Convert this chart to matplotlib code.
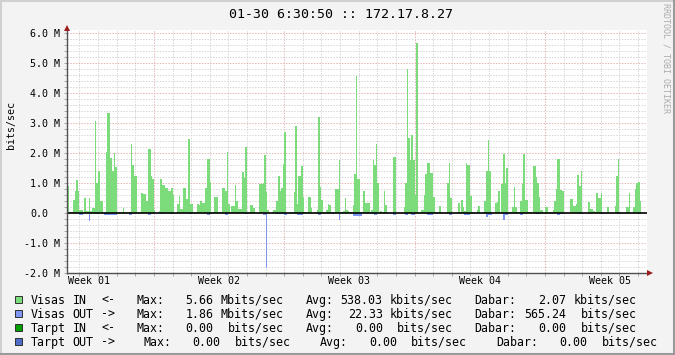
import re
import numpy as np
import matplotlib
matplotlib.use("Agg")
import matplotlib.pyplot as plt
from matplotlib.patches import Rectangle
from matplotlib.transforms import blended_transform_factory

# Datos: Mbits/sec en bloques de 2 horas
visas_in = [
    0.90, 0.02, 0.02, 0.02, 0.44, 0.74, 1.10, 0.74, 0.10, 0.10, 0.02, 0.50,
    0.08, 0.08, 0.50, 0.08, 0.18, 0.18, 3.08, 1.00, 1.40, 0.41, 0.40, 0.03,
    0.03, 2.04, 3.34, 3.34, 1.84, 1.40, 2.00, 1.54, 0.05, 0.02, 0.02, 0.02,
    0.18, 0.02, 0.02, 0.02, 0.05, 2.31, 1.60, 1.24, 1.24, 0.03, 0.03, 0.03,
    0.68, 0.65, 0.65, 0.41, 2.14, 2.14, 1.24, 1.14, 0.10, 0.00, 0.00, 0.08,
    1.14, 0.94, 0.94, 0.84, 0.84, 0.74, 0.74, 0.84, 0.60, 0.00, 0.00, 0.30,
    0.58, 0.15, 0.15, 0.84, 0.84, 0.48, 2.48, 0.31, 0.31, 0.02, 0.02, 0.02,
    0.30, 0.27, 0.40, 0.35, 0.35, 0.84, 1.80, 1.80, 1.04, 0.02, 0.02, 0.54,
    0.54, 0.05, 0.05, 0.05, 0.84, 0.84, 0.75, 2.05, 0.30, 0.02, 0.24, 0.24,
    0.94, 0.41, 0.14, 0.14, 0.14, 1.37, 1.17, 2.20, 0.02, 0.02, 0.27, 0.27,
    0.17, 0.02, 0.00, 0.00, 0.98, 0.98, 1.00, 1.95, 0.70, 0.10, 0.00, 0.00,
    0.05, 0.10, 0.10, 0.41, 1.24, 0.75, 0.84, 1.62, 2.70, 0.00, 0.00, 0.00,
    0.05, 0.05, 0.70, 2.90, 0.31, 1.24, 1.24, 1.58, 0.55, 0.02, 0.02, 0.55,
    0.55, 0.18, 0.00, 0.00, 0.02, 0.10, 3.20, 0.87, 0.45, 0.02, 0.02, 0.10,
    0.30, 0.28, 0.05, 0.02, 0.02, 0.80, 0.80, 1.76, 0.05, 0.02, 0.08, 0.50,
    0.10, 0.08, 0.02, 0.05, 0.28, 1.30, 4.56, 1.13, 1.13, 0.02, 0.02, 0.72,
    0.34, 0.34, 0.34, 0.02, 0.10, 1.76, 1.60, 2.30, 1.00, 0.02, 0.07, 0.02,
    0.72, 0.27, 0.02, 0.00, 0.00, 0.00, 1.87, 1.87, 0.00, 0.00, 0.00, 0.00,
    0.00, 0.20, 1.00, 4.80, 2.50, 1.76, 2.60, 1.76, 0.60, 5.66, 0.03, 0.03,
    0.10, 0.10, 0.60, 1.30, 1.68, 1.68, 1.33, 1.33, 0.55, 0.02, 0.02, 0.02,
    0.23, 0.02, 0.00, 0.00, 0.05, 1.00, 1.68, 0.50, 0.00, 0.00, 0.00, 0.00,
    0.33, 0.02, 0.45, 0.20, 0.06, 1.68, 1.60, 1.60, 0.56, 0.02, 0.00, 0.00,
    0.10, 0.25, 0.00, 0.00, 0.02, 0.40, 1.40, 2.45, 1.40, 0.02, 0.00, 0.00,
    0.35, 0.38, 0.72, 0.03, 0.97, 1.98, 1.00, 1.50, 0.05, 0.02, 0.02, 0.20,
    0.87, 0.20, 0.02, 0.02, 0.40, 0.97, 1.98, 0.45, 0.45, 0.05, 0.02, 0.02,
    1.58, 1.58, 1.20, 1.00, 0.55, 0.10, 0.10, 0.02, 0.20, 0.20, 0.05, 0.02,
    0.02, 0.10, 0.41, 0.80, 1.80, 1.80, 0.78, 0.72, 0.00, 0.00, 0.00, 0.00,
    0.48, 0.48, 0.24, 0.24, 0.30, 1.28, 0.90, 1.40, 0.00, 0.00, 0.00, 0.00,
    0.37, 0.15, 0.15, 0.07, 0.02, 0.68, 0.50, 0.50, 0.68, 0.02, 0.00, 0.00,
    0.20, 0.00, 0.00, 0.00, 0.00, 0.22, 1.24, 1.80, 0.05, 0.00, 0.00, 0.00,
    0.20, 0.20, 0.66, 0.00, 0.00, 0.20, 0.80, 1.00, 1.04, 0.40, 0.00, 0.00,
    0.00, 0.00,
]
visas_out = [
    0, 0, 0, 0, 0, 0, 0, 0, 0.05, 0.05, 0, 0,
    0, 0, 0.25, 0, 0, 0, 0.04, 0.04, 0, 0, 0, 0,
    0.05, 0.05, 0.05, 0.05, 0.05, 0.05, 0.05, 0.05, 0, 0, 0, 0,
    0, 0, 0, 0, 0.05, 0.05, 0, 0, 0, 0, 0, 0,
    0, 0, 0, 0, 0.08, 0.08, 0, 0, 0, 0, 0, 0,
    0.03, 0.03, 0, 0, 0, 0, 0.03, 0.03, 0, 0, 0, 0,
    0, 0, 0, 0, 0, 0, 0.03, 0.03, 0, 0, 0, 0,
    0, 0, 0, 0, 0, 0, 0.05, 0.05, 0, 0, 0, 0,
    0, 0, 0, 0, 0, 0, 0.08, 0.08, 0, 0, 0, 0,
    0, 0, 0, 0, 0, 0, 0.04, 0.04, 0, 0, 0, 0,
    0, 0, 0, 0, 0, 0, 0.05, 0.05, 1.84, 0, 0, 0,
    0, 0, 0.04, 0.04, 0.04, 0.04, 0.04, 0.04, 0.05, 0.05, 0, 0,
    0, 0, 0.03, 0.03, 0.05, 0.05, 0.07, 0.07, 0, 0, 0, 0,
    0, 0, 0, 0, 0, 0, 0.06, 0.06, 0, 0, 0, 0,
    0, 0, 0.04, 0.04, 0, 0, 0, 0.23, 0, 0, 0, 0,
    0, 0, 0, 0, 0.10, 0.10, 0.10, 0.10, 0.10, 0.10, 0, 0,
    0, 0, 0, 0, 0.04, 0.04, 0.06, 0.06, 0, 0, 0, 0,
    0, 0, 0, 0, 0, 0, 0.06, 0.06, 0, 0, 0, 0,
    0, 0, 0.06, 0.06, 0, 0, 0.06, 0.06, 0, 0, 0, 0,
    0, 0, 0, 0, 0.05, 0.05, 0.05, 0.05, 0, 0, 0, 0,
    0, 0, 0, 0, 0, 0, 0.05, 0.05, 0, 0, 0, 0,
    0, 0, 0, 0, 0.08, 0.08, 0.08, 0.08, 0, 0, 0, 0,
    0, 0, 0, 0, 0, 0, 0.13, 0.06, 0.06, 0.06, 0, 0,
    0, 0, 0, 0, 0, 0.23, 0.06, 0.06, 0, 0, 0, 0,
    0, 0, 0, 0, 0.05, 0.05, 0, 0, 0, 0, 0, 0,
    0, 0, 0.03, 0.03, 0.04, 0.04, 0, 0, 0, 0, 0, 0,
    0, 0, 0, 0, 0.08, 0.08, 0.04, 0.04, 0, 0, 0, 0,
    0, 0, 0, 0, 0, 0, 0.04, 0.04, 0, 0, 0, 0,
    0, 0, 0, 0, 0, 0, 0, 0, 0.03, 0.03, 0, 0,
    0, 0, 0, 0, 0, 0, 0.04, 0.04, 0, 0, 0, 0,
    0, 0, 0, 0, 0, 0, 0, 0, 0.03, 0.03, 0, 0,
    0, 0,
]
inicio_h = -16
paso_h = 2

dias_h = list(range(0, 721, 24))
semanas_h = [96, 264, 432, 600]
pos_semana_h = [12, 180, 348, 516, 684]
etiquetas_semana = ["Week 01", "Week 02", "Week 03", "Week 04", "Week 05"]

y_mayor = [-2, -1, 0, 1, 2, 3, 4, 5, 6]
etiquetas_y = ["-2.0 M", "-1.0 M", "0.0", "1.0 M", "2.0 M", "3.0 M", "4.0 M", "5.0 M", "6.0 M"]

titulo = "01-30 6:30:50 :: 172.17.8.27"
leyenda = [
    "Visas IN  <-   Max:   5.66 Mbits/sec   Avg: 538.03 kbits/sec   Dabar:   2.07 kbits/sec",
    "Visas OUT ->   Max:   1.86 Mbits/sec   Avg:  22.33 kbits/sec   Dabar: 565.24  bits/sec",
    "Tarpt IN  <-   Max:   0.00  bits/sec   Avg:   0.00  bits/sec   Dabar:   0.00  bits/sec",
    "Tarpt OUT ->    Max:   0.00  bits/sec    Avg:   0.00  bits/sec    Dabar:   0.00  bits/sec",
]
colores = ["#7CDC7C", "#7F96F4", "#00A000", "#4F6EC8"]

MONO = "DejaVu Sans Mono"
W, H = 675, 355

fig = plt.figure(figsize=(W / 100, H / 100), dpi=100, facecolor="#F3F3F3")

# Area del grafico
x0 = inicio_h
x1 = inicio_h + paso_h * len(visas_in)
px_h = 18.62 / 24
izq, abajo, arriba = 67, 273, 30
ancho = (x1 - x0) * px_h
ax = fig.add_axes([izq / W, (H - abajo) / H, ancho / W, (abajo - arriba) / H])
ax.set_facecolor("white")
ax.set_xlim(x0, x1)
ax.set_ylim(-2, -2 + (abajo - arriba) / 30)

bordes = inicio_h + paso_h * np.arange(len(visas_in) + 1)
ax.stairs(visas_in, bordes, baseline=0, fill=True, color=colores[0], lw=0, antialiased=False)
ax.stairs(-np.array(visas_out), bordes, baseline=0, fill=True, color=colores[1], lw=0,
          antialiased=False)
ax.axhline(0, color="black", lw=1.2, zorder=5)

# Rejilla punteada
ax.set_yticks(y_mayor, labels=[])
ax.set_yticks(np.round(np.arange(-20, 61, 2) / 10, 1), minor=True)
ax.set_xticks(semanas_h, labels=[])
ax.set_xticks(dias_h, minor=True)
ax.grid(which="major", color="#E8B4B4", ls=(0, (1.4, 1.4)), lw=0.72)
ax.grid(which="minor", color="#D6D6D6", ls=(0, (1.4, 1.4)), lw=0.72)
ax.set_axisbelow(True)
ax.tick_params(which="both", direction="out", length=2.2, width=0.72, colors="#A8A8A8")
for s in ax.spines.values():
    s.set_visible(False)

# Capa para textos y marco (pixeles)
ov = fig.add_axes([0, 0, 1, 1], zorder=10)
ov.set_xlim(0, W)
ov.set_ylim(H, 0)
ov.axis("off")

tr_y = blended_transform_factory(ov.transData, ax.transData)
for v, lab in zip(y_mayor, etiquetas_y):
    xr = 60.5 if lab.endswith("M") else 48.5
    ax.text(xr, v, lab, transform=tr_y, ha="right", va="center_baseline",
            family=MONO, fontsize=7.2, color="black")

tr_x = blended_transform_factory(ax.transData, ov.transData)
for h, lab in zip(pos_semana_h, etiquetas_semana):
    ax.text(h, 284.5, lab, transform=tr_x, ha="center", va="baseline",
            family=MONO, fontsize=7.2, color="black")

# Ejes con flechas
ov.plot([67, 67], [274, 29], color="#505050", lw=1.0, solid_capstyle="butt")
ov.plot([66.5, 648], [273.2, 273.2], color="#505050", lw=1.0, solid_capstyle="butt")
ov.plot(67, 27.8, marker="^", ms=4.6, color="#9B1C1C", mew=0)
ov.plot(649.5, 273.2, marker=">", ms=4.6, color="#9B1C1C", mew=0)

ov.text(341, 18.3, titulo, ha="center", va="baseline", family=MONO, fontsize=9.5, color="black")
ov.text(11, 125, "bits/sec", rotation=90, ha="center", va="center", family=MONO, fontsize=7.2)
ov.text(666, 58, "RRDTOOL / TOBI OETIKER", rotation=270, ha="center", va="center",
        family=MONO, fontsize=6, color="#ABABAB")

# Leyenda (columnas fijas de 7.05 px)
for i, (txt, col) in enumerate(zip(leyenda, colores)):
    base = 303.7 + 14 * i
    ov.add_patch(Rectangle((15, base - 7.8), 7, 7, facecolor=col, edgecolor="#303030", lw=0.7))
    for m in re.finditer(r"\S+", txt):
        ov.text(30.5 + 7.05 * m.start(), base, m.group(), ha="left", va="baseline",
                family=MONO, fontsize=8.35, color="black")

# Marco exterior
ov.plot([0, W], [0.5, 0.5], color="#D0D0D0", lw=1.5)
ov.plot([0.5, 0.5], [0, H], color="#D0D0D0", lw=1.5)
ov.plot([0, W], [353.8, 353.8], color="#9A9A9A", lw=2.2)
ov.plot([673.8, 673.8], [0, H], color="#9A9A9A", lw=2.2)

fig.savefig("out.png", dpi=100, facecolor=fig.get_facecolor())
